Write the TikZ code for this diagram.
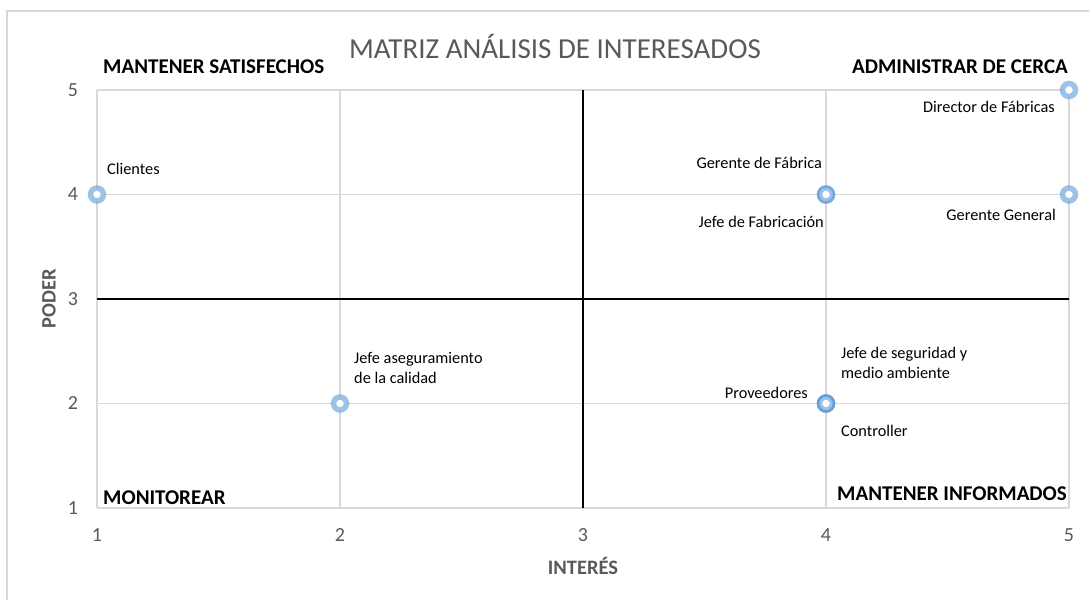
\documentclass[tikz,border=0pt]{standalone}
\usepackage{fontspec}
\setmainfont{Carlito}
\usetikzlibrary{positioning}
\definecolor{gridgray}{HTML}{D9D9D9}
\definecolor{txtgray}{HTML}{595959}
\definecolor{markblue}{HTML}{5B9BD5}

\begin{document}
\begin{tikzpicture}[x=1pt,y=-1pt]
			\tikzset{punto/.style={circle,draw=markblue,draw opacity=0.6,line width=5.5pt,fill=white,minimum size=13pt,inner sep=0pt}}
			\tikzset{etiqueta/.style={font=\fontsize{16.3}{20}\selectfont,inner sep=0pt,align=left}}
			\tikzset{cuadrante/.style={font=\fontsize{21}{24}\selectfont\bfseries,inner sep=0pt}}
			\tikzset{eje/.style={font=\fontsize{20}{22}\selectfont,text=txtgray,inner sep=0pt}}
			\tikzset{rejilla/.style={gridgray,line width=1.5pt}}
			\useasboundingbox (0,0) rectangle (1089,600);
			\draw[rejilla] (7,600) -- (7,11) -- (1089,11);
			\node[font=\fontsize{29}{32}\selectfont,text=txtgray] (titulo) at (555,46) {MATRIZ ANÁLISIS DE INTERESADOS};
			\node[eje,font=\fontsize{20.5}{22}\selectfont\bfseries,rotate=90] (poder) at (49,299) {PODER};
			\node[eje,font=\fontsize{20.5}{22}\selectfont\bfseries] (interes) at (583,566) {INTERÉS};
			\begin{scope}[shift={(-146,612.5)},x=243pt,y=104.5pt]
				\foreach \i in {1,2,4,5} {
					\draw[rejilla] (\i,1) -- (\i,5);
					\draw[rejilla] (1,\i) -- (5,\i);
				}
				\draw[black,line width=1.8pt] (3,1) -- (3,5);
				\draw[black,line width=1.8pt] (1,3) -- (5,3);
				\foreach \i in {1,...,5} {
					\node[eje,xshift=-24pt] (ty\i) at (1,\i) {\i};
					\node[eje,yshift=-27pt] (tx\i) at (\i,1) {\i};
				}
				\coordinate (esqNO) at (1,5);
				\coordinate (esqNE) at (5,5);
				\coordinate (esqSO) at (1,1);
				\coordinate (esqSE) at (5,1);
				\node[cuadrante,anchor=west] (satisf) at ([xshift=6pt,yshift=23pt]esqNO) {MANTENER SATISFECHOS};
				\node[cuadrante,anchor=east] (admin) at ([xshift=-1pt,yshift=23pt]esqNE) {ADMINISTRAR DE CERCA};
				\node[cuadrante,anchor=west] (monit) at ([xshift=6pt,yshift=10pt]esqSO) {MONITOREAR};
				\node[cuadrante,anchor=east] (inform) at ([xshift=-2pt,yshift=14pt]esqSE) {MANTENER INFORMADOS};
				% puntos
				\node[punto] (clientes) at (1,4) {};
				\node[punto] (gerfab) at (4,4) {};
				\node[punto] (jefefab) at (4,4) {};
				\node[punto] (director) at (5,5) {};
				\node[punto] (gergen) at (5,4) {};
				\node[punto] (aseg) at (2,2) {};
				\node[punto] (jefeseg) at (4,2) {};
				\node[punto] (proveed) at (4,2) {};
				\node[punto] (control) at (4,2) {};
				% etiquetas
				\node[etiqueta,anchor=west] (lclientes) at ([xshift=10pt,yshift=26pt]clientes.center) {Clientes};
				\node[etiqueta,anchor=east] (lgerfab) at ([xshift=-4pt,yshift=32pt]gerfab.center) {Gerente de Fábrica};
				\node[etiqueta,anchor=east] (ljefefab) at ([xshift=-2pt,yshift=-27pt]jefefab.center) {Jefe de Fabricación};
				\node[etiqueta,anchor=east] (ldirector) at ([xshift=-14pt,yshift=-17pt]director.center) {Director de Fábricas};
				\node[etiqueta,anchor=east] (lgergen) at ([xshift=-13pt,yshift=-20pt]gergen.center) {Gerente General};
				\node[etiqueta,anchor=west] (laseg) at ([xshift=14pt,yshift=36pt]aseg.center) {Jefe aseguramiento\\de la calidad};
				\node[etiqueta,anchor=west] (ljefeseg) at ([xshift=15pt,yshift=41pt]jefeseg.center) {Jefe de seguridad y\\medio ambiente};
				\node[etiqueta,anchor=east] (lproveed) at ([xshift=-18pt,yshift=11pt]proveed.center) {Proveedores};
				\node[etiqueta,anchor=west] (lcontrol) at ([xshift=15pt,yshift=-27pt]control.center) {Controller};
			\end{scope}
		\end{tikzpicture}
\end{document}
